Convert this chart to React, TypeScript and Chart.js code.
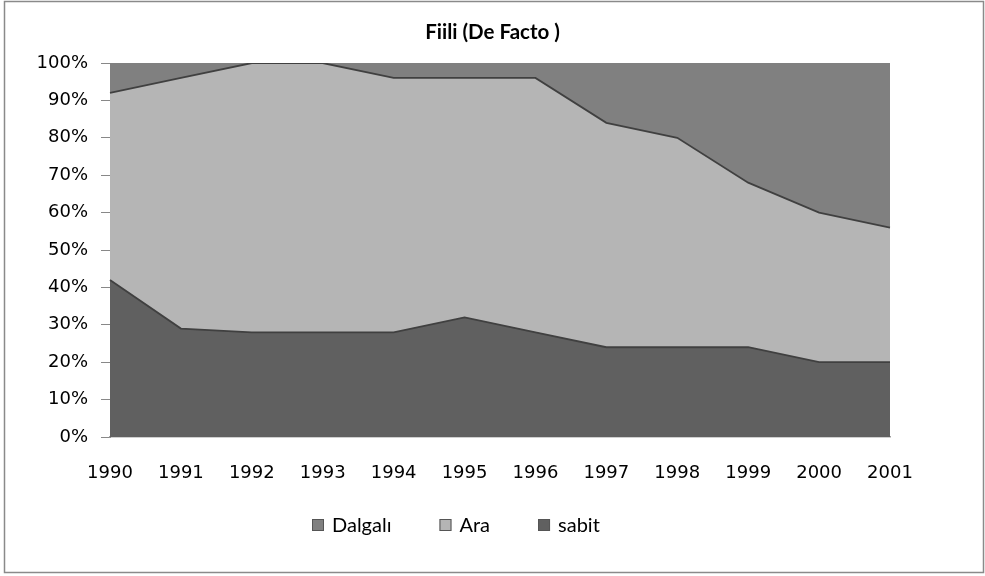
import React, { useEffect, useRef } from "react";
import { Chart, registerables } from "chart.js";

Chart.register(...registerables);

const years = ["1990", "1991", "1992", "1993", "1994", "1995", "1996", "1997", "1998", "1999", "2000", "2001"];
const sabit = [42, 29, 28, 28, 28, 32, 28, 24, 24, 24, 20, 20];
const ara = [50, 67, 72, 72, 68, 64, 68, 60, 56, 44, 40, 36];
const dalgali = [8, 4, 0, 0, 4, 4, 4, 16, 20, 32, 40, 44];

const framePlugin = {
  id: "frame",
  afterDraw(chart: any) {
    const ctx = chart.ctx;
    ctx.save();
    ctx.strokeStyle = "#8a8a8a";
    ctx.lineWidth = 1.5;
    ctx.strokeRect(4.5, 1.5, 979, 571);
    ctx.restore();
  },
};

// Legend drawn from the chart's datasets (reversed order, as in the reference)
const legendPlugin = {
  id: "customLegend",
  afterDraw(chart: any, _args: any, opts: any) {
    const ctx = chart.ctx;
    const ds = [...chart.data.datasets].reverse();
    ctx.save();
    ctx.font = opts.font;
    ctx.textBaseline = "middle";
    ctx.textAlign = "left";
    let x = opts.x;
    const y = opts.y;
    const b = opts.box;
    ds.forEach((d: any) => {
      ctx.fillStyle = d.backgroundColor;
      ctx.fillRect(x, y - b / 2, b, b);
      ctx.strokeStyle = "#555";
      ctx.lineWidth = 1;
      ctx.strokeRect(x + 0.5, y - b / 2 + 0.5, b - 1, b - 1);
      ctx.fillStyle = "#000";
      const tx = x + b + opts.gap;
      ctx.fillText(d.label, tx, y + 1);
      x = tx + ctx.measureText(d.label).width + opts.spacing;
    });
    ctx.restore();
  },
};

export default function App() {
  const ref = useRef<HTMLCanvasElement>(null);
  useEffect(() => {
    document.body.style.margin = "0";
    const chart = new Chart(ref.current!, {
      type: "line",
      data: {
        labels: years,
        datasets: [
          {
            label: "sabit",
            data: sabit,
            backgroundColor: "#606060",
            borderColor: "#404040",
            borderWidth: 1.8,
            fill: "origin",
            pointRadius: 0,
            tension: 0,
          },
          {
            label: "Ara",
            data: ara,
            backgroundColor: "#b5b5b5",
            borderColor: "#404040",
            borderWidth: 1.8,
            fill: "-1",
            pointRadius: 0,
            tension: 0,
          },
          {
            label: "Dalgalı",
            data: dalgali,
            backgroundColor: "#808080",
            borderColor: "#808080",
            borderWidth: 0,
            fill: "-1",
            pointRadius: 0,
            tension: 0,
          },
        ],
      },
      options: {
        responsive: false,
        animation: false,
        layout: { padding: { left: 0, right: 0, top: 0, bottom: 79 } },
        plugins: {
          title: {
            display: true,
            text: "Fiili (De Facto )",
            color: "#000",
            font: { family: "Lato", size: 20.5, weight: "bold" },
            padding: { top: 20, bottom: 18.4 },
          },
          legend: { display: false },
          tooltip: { enabled: false },
          customLegend: {
            x: 312,
            y: 525,
            box: 12,
            gap: 8,
            spacing: 48,
            font: "20px Lato",
          },
        } as any,
        scales: {
          x: {
            offset: false,
            grid: { display: false, drawOnChartArea: false },
            border: { display: true, color: "#a0a0a0", width: 1.5 },
            ticks: {
              color: "#000",
              font: { family: "DejaVu Sans", size: 18 },
              padding: 18,
              maxRotation: 0,
              autoSkip: false,
            },
            afterFit(s: any) {
              s.height = 60;
            },
          },
          y: {
            stacked: true,
            min: 0,
            max: 100,
            grid: { drawOnChartArea: false, drawTicks: true, tickLength: 9, color: "#888" },
            border: { display: true, color: "#888" },
            ticks: {
              stepSize: 10,
              color: "#000",
              font: { family: "DejaVu Sans", size: 18 },
              padding: 13,
              callback: (v: any) => v + "%",
            },
            afterFit(s: any) {
              s.width = 110;
            },
          },
          yRight: {
            position: "right",
            min: 0,
            max: 100,
            grid: { display: false },
            border: { display: false },
            ticks: { display: false },
            afterFit(s: any) {
              s.width = 95;
            },
          },
        },
      },
      plugins: [framePlugin, legendPlugin],
    });
    return () => chart.destroy();
  }, []);
  return (
    <div style={{ width: 985, height: 576 }}>
      <canvas ref={ref} width={985} height={576} />
    </div>
  );
}
